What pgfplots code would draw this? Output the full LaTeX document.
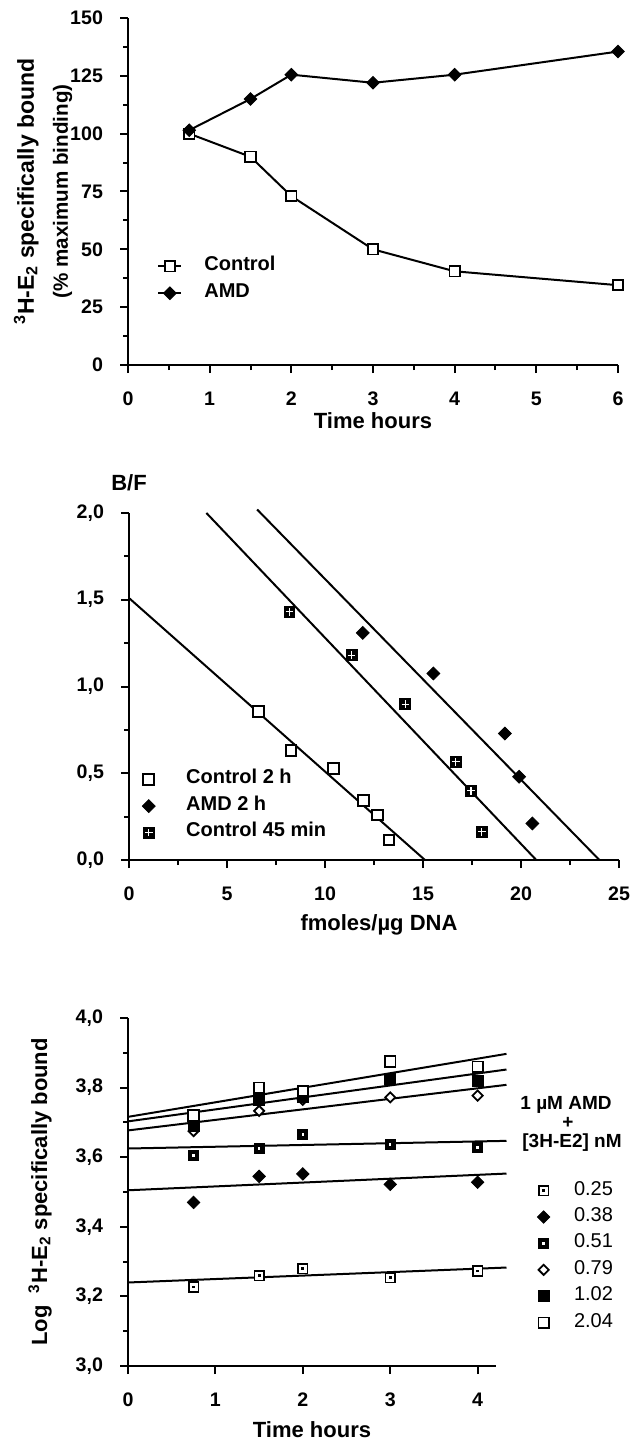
\documentclass[border=0pt]{standalone}
\usepackage{fontspec}
\setmainfont{Liberation Sans}
\usepackage{pgfplots}
\pgfplotsset{compat=1.18}

% plot marks used by the three panels
\pgfdeclareplotmark{rdiam}{%
  \pgfpathmoveto{\pgfqpoint{0pt}{1.15\pgfplotmarksize}}%
  \pgfpathlineto{\pgfqpoint{1.15\pgfplotmarksize}{0pt}}%
  \pgfpathlineto{\pgfqpoint{0pt}{-1.15\pgfplotmarksize}}%
  \pgfpathlineto{\pgfqpoint{-1.15\pgfplotmarksize}{0pt}}%
  \pgfpathclose\pgfusepathqfillstroke}
\pgfdeclareplotmark{sqgrid}{%
  \pgfpathrectangle{\pgfqpoint{-\pgfplotmarksize}{-\pgfplotmarksize}}{\pgfqpoint{2\pgfplotmarksize}{2\pgfplotmarksize}}%
  \pgfusepathqfillstroke
  \begin{pgfscope}
  \pgfsetstrokecolor{white}\pgfsetlinewidth{0.55pt}%
  \pgfpathmoveto{\pgfqpoint{-0.7\pgfplotmarksize}{0pt}}\pgfpathlineto{\pgfqpoint{0.7\pgfplotmarksize}{0pt}}%
  \pgfpathmoveto{\pgfqpoint{0pt}{-0.7\pgfplotmarksize}}\pgfpathlineto{\pgfqpoint{0pt}{0.7\pgfplotmarksize}}%
  \pgfusepathqstroke
  \end{pgfscope}}
\pgfdeclareplotmark{sqdot}{%
  \pgfpathrectangle{\pgfqpoint{-\pgfplotmarksize}{-\pgfplotmarksize}}{\pgfqpoint{2\pgfplotmarksize}{2\pgfplotmarksize}}%
  \pgfusepathqfillstroke
  \begin{pgfscope}
  \pgfsetfillcolor{black}%
  \pgfpathrectangle{\pgfqpoint{-0.3\pgfplotmarksize}{-0.3\pgfplotmarksize}}{\pgfqpoint{0.6\pgfplotmarksize}{0.6\pgfplotmarksize}}%
  \pgfusepathqfill
  \end{pgfscope}}
\pgfdeclareplotmark{fsqdot}{%
  \pgfpathrectangle{\pgfqpoint{-\pgfplotmarksize}{-\pgfplotmarksize}}{\pgfqpoint{2\pgfplotmarksize}{2\pgfplotmarksize}}%
  \pgfusepathqfillstroke
  \begin{pgfscope}
  \pgfsetfillcolor{white}%
  \pgfpathrectangle{\pgfqpoint{-0.25\pgfplotmarksize}{-0.25\pgfplotmarksize}}{\pgfqpoint{0.5\pgfplotmarksize}{0.5\pgfplotmarksize}}%
  \pgfusepathqfill
  \end{pgfscope}}

\pgfplotsset{
  oldfig/.style={
    scale only axis, clip=false,
    axis lines=left, axis line style={-, line width=1.3pt},
    tick align=outside, major tick length=4pt, minor tick length=2.5pt,
    every tick/.style={black, line width=1pt},
    /pgf/number format/assume math mode=true,
    tick label style={font=\bfseries\fontsize{9.8}{11}\selectfont},
    xticklabel shift=6pt, yticklabel shift=5pt,
    label style={font=\bfseries\fontsize{11}{13}\selectfont},
    legend cell align=left,
  },
  dataline/.style={black, line width=1pt},
  marklegend/.style={legend image code/.code={%
      \draw[##1] plot coordinates {(0pt,0pt)};
      \path (-3pt,0pt) (#1,0pt);}},
}

\begin{document}
\begin{tikzpicture}
\useasboundingbox (0,0) rectangle (315pt,-722pt);

% ---- top: time course, % maximum binding ----
\begin{axis}[oldfig,
  at={(64pt,-182.5pt)}, anchor=south west,
  width=245pt, height=173.5pt,
  xmin=0, xmax=6, ymin=0, ymax=150,
  xtick={0,1,...,6}, minor x tick num=1,
  ytick={0,25,...,150}, minor y tick num=1,
  xlabel={Time hours},
  xlabel style={at={(rel axis cs:0.5,0)}, anchor=center, yshift=-28pt},
  ylabel={\textsuperscript{3}H-E\textsubscript{2} specifically bound\\{\fontsize{10.3}{17}\selectfont (\% maximum binding)}},
  ylabel style={align=center, font=\bfseries\fontsize{11.5}{17}\selectfont,
    at={(axis description cs:-0.1735,0.5)}, anchor=center},
  legend style={at={(axis cs:0.355,48.7)}, anchor=north west,
    draw=none, fill=none, inner sep=0pt, row sep=0pt,
    font=\bfseries\fontsize{10}{12}\selectfont,
    nodes={inner sep=0pt, text height=9pt, text depth=4.5pt}},
  legend image code/.code={%
    \draw[mark repeat=2, mark phase=2, #1] plot coordinates {(0pt,0pt) (5.75pt,0pt) (11.5pt,0pt)};
    \path (11.5pt,0pt) (22.5pt,0pt);},
]
\addplot[dataline, mark=square*, mark size=2.6pt, mark options={fill=white, line width=0.9pt}]
  coordinates {(0.75,100) (1.5,90) (2,73) (3,50) (4,40.5) (6,34.5)};
\addlegendentry{Control}
\addplot[dataline, mark=rdiam, mark size=2.7pt, mark options={fill=black, line width=0.5pt}]
  coordinates {(0.75,101.5) (1.5,115) (2,125.5) (3,122) (4,125.5) (6,135.5)};
\addlegendentry{AMD}
\end{axis}

% ---- middle: Scatchard plot ----
\begin{axis}[oldfig,
  at={(64.5pt,-430pt)}, anchor=south west,
  width=245pt, height=173.5pt,
  xmin=0, xmax=25, ymin=0, ymax=2,
  xtick={0,5,...,25}, minor x tick num=1,
  ytick={0,0.5,...,2}, minor y tick num=1,
  yticklabel style={/pgf/number format/.cd, fixed, fixed zerofill, precision=1, use comma},
  xlabel={fmoles/µg DNA},
  xlabel style={at={(rel axis cs:0.5,0)}, anchor=center, yshift=-32.5pt, xshift=2.5pt},
  ylabel={B/F},
  ylabel style={at={(rel axis cs:0,1)}, rotate=-90, anchor=center, yshift=15pt},
  legend style={at={(axis cs:0.66,0.542)}, anchor=north west,
    draw=none, fill=none, inner sep=0pt, row sep=0pt,
    font=\bfseries\fontsize{10}{12}\selectfont,
    nodes={inner sep=0pt, text height=8.8pt, text depth=4.45pt}},
]
\addplot[dataline, forget plot] coordinates {(0,1.51) (15.1,0)};
\addplot[dataline, forget plot] coordinates {(3.95,2.0) (20.78,0)};
\addplot[dataline, forget plot] coordinates {(6.54,2.02) (24.0,0)};
\addplot[only marks, mark=square*, mark size=2.7pt, mark options={fill=white, draw=black, line width=1pt}, marklegend=18.5pt]
  coordinates {(6.6,0.854) (8.27,0.633) (10.45,0.528) (11.98,0.345) (12.67,0.259) (13.27,0.115)};
\addlegendentry{Control 2 h}
\addplot[only marks, mark=rdiam, mark size=2.8pt, mark options={fill=black, draw=black, line width=0.4pt}, marklegend=18.5pt]
  coordinates {(11.93,1.309) (15.53,1.075) (19.18,0.729) (19.9,0.48) (20.58,0.211)};
\addlegendentry{AMD 2 h}
\addplot[only marks, mark=sqgrid, mark size=2.7pt, mark options={fill=black, draw=black, line width=0.5pt}, marklegend=18.5pt]
  coordinates {(8.19,1.43) (11.36,1.18) (14.1,0.898) (16.67,0.566) (17.45,0.399) (18.0,0.163)};
\addlegendentry{Control 45 min}
\end{axis}

% ---- bottom: log binding with AMD ----
\begin{axis}[oldfig,
  at={(64pt,-683pt)}, anchor=south west,
  width=184pt, height=174pt,
  xmin=0, xmax=4.21, ymin=3, ymax=4,
  xtick={0,1,...,4},
  ytick={3,3.2,...,4.01}, minor y tick num=1,
  yticklabel style={/pgf/number format/.cd, fixed, fixed zerofill, precision=1, use comma},
  xlabel={Time hours},
  xlabel style={at={(rel axis cs:0.5,0)}, anchor=center, yshift=-32pt},
  ylabel={Log\ \ \textsuperscript{3}H-E\textsubscript{2} specifically bound},
  ylabel style={at={(axis description cs:-0.239,0.5)}, anchor=center},
  legend style={at={(rel axis cs:1.111,0.543)}, anchor=north west,
    draw=none, fill=none, inner sep=0pt, row sep=0pt,
    font=\fontsize{10}{12}\selectfont,
    nodes={inner sep=0pt, text height=8.8pt, text depth=4.4pt}},
]
\addplot[dataline, forget plot] coordinates {(0,3.716) (4.33,3.897)};
\addplot[dataline, forget plot] coordinates {(0,3.703) (4.33,3.852)};
\addplot[dataline, forget plot] coordinates {(0,3.677) (4.33,3.808)};
\addplot[dataline, forget plot] coordinates {(0,3.625) (4.33,3.647)};
\addplot[dataline, forget plot] coordinates {(0,3.505) (4.33,3.553)};
\addplot[dataline, forget plot] coordinates {(0,3.240) (4.33,3.283)};
\addplot[only marks, mark=sqdot, mark size=2.4pt, mark options={fill=white, draw=black, line width=0.8pt}, marklegend=15pt]
  coordinates {(0.75,3.227) (1.5,3.26) (2,3.28) (3,3.254) (4,3.273)};
\addlegendentry{0.25}
\addplot[only marks, mark=rdiam, mark size=2.7pt, mark options={fill=black, draw=black, line width=0.4pt}, marklegend=15pt]
  coordinates {(0.75,3.47) (1.5,3.545) (2,3.552) (3,3.522) (4,3.528)};
\addlegendentry{0.38}
\addplot[only marks, mark=fsqdot, mark size=2.5pt, mark options={fill=black, draw=black, line width=0.4pt}, marklegend=15pt]
  coordinates {(0.75,3.605) (1.5,3.625) (2,3.665) (3,3.636) (4,3.628)};
\addlegendentry{0.51}
\addplot[only marks, mark=rdiam, mark size=2.2pt, mark options={fill=white, draw=black, line width=0.9pt}, marklegend=15pt]
  coordinates {(0.75,3.675) (1.5,3.733) (2,3.765) (3,3.772) (4,3.777)};
\addlegendentry{0.79}
\addplot[only marks, mark=square*, mark size=2.8pt, mark options={fill=black, draw=black, line width=0.4pt}, marklegend=15pt]
  coordinates {(0.75,3.69) (1.5,3.765) (2,3.775) (3,3.825) (4,3.82)};
\addlegendentry{1.02}
\addplot[only marks, mark=square*, mark size=2.6pt, mark options={fill=white, draw=black, line width=0.9pt}, marklegend=15pt]
  coordinates {(0.75,3.72) (1.5,3.80) (2,3.79) (3,3.875) (4,3.86)};
\addlegendentry{2.04}
\end{axis}

% legend heading of the bottom panel
\node[font=\bfseries\fontsize{9.5}{12}\selectfont] at (283pt,-552.5pt) {1 µM AMD};
\node[font=\bfseries\fontsize{9.5}{12}\selectfont] at (284pt,-561.5pt) {+};
\node[font=\bfseries\fontsize{9.5}{12}\selectfont] at (286pt,-571.5pt) {[3H-E2] nM};
\end{tikzpicture}
\end{document}
